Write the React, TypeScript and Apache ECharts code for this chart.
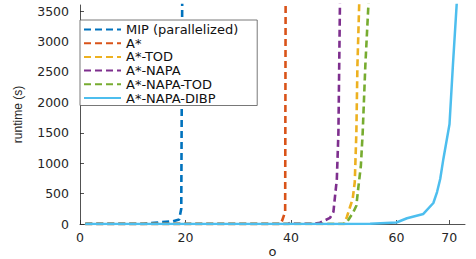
import React, { useEffect, useRef } from "react";
import * as echarts from "echarts";

const seriesNames = [
  "MIP (parallelized)",
  "A*",
  "A*-TOD",
  "A*-NAPA",
  "A*-NAPA-TOD",
  "A*-NAPA-DIBP",
];

const mipData: [number, number][] = [
  [1, 0], [12, 0], [13.5, 15], [15.5, 30], [17.6, 45], [18.8, 75], [19.2, 250], [19.5, 6000],
];
const aStarData: [number, number][] = [
  [1, 0], [38, 0], [38.3, 50], [38.9, 200], [39.1, 8000],
];
const todData: [number, number][] = [
  [1, 0], [50, 0], [50.6, 115], [51.2, 280], [51.7, 410], [52.1, 690], [52.4, 1500], [52.6, 2600], [53.0, 3800],
];
const napaData: [number, number][] = [
  [1, 0], [39.5, 0], [40, 30], [40.6, 5], [44.5, 5], [45.5, 20], [47.4, 100], [48.05, 200], [48.7, 740], [49.0, 1510], [49.3, 3700],
];
const napaTodData: [number, number][] = [
  [1, 0], [50.3, 0], [50.9, 70], [51.85, 200], [52.4, 300], [52.8, 620], [53.25, 950], [53.6, 1500], [54.1, 2600], [54.8, 3800],
];
const dibpData: [number, number][] = [
  [1, 0], [50, 0], [55, 5], [60, 25], [62, 95], [65.1, 165], [67, 345], [67.7, 525], [68.3, 740], [68.9, 1070], [70.06, 1640], [70.7, 2600], [71.45, 3650],
];

const xTicks = [0, 20, 40, 60, 70];
const yTicks = [0, 500, 1000, 1500, 2000, 2500, 3000, 3500];

const colors = ["#0072BD", "#D95319", "#EDB120", "#7E2F8E", "#77AC30", "#4DBEEE"];
const allData = [mipData, aStarData, todData, napaData, napaTodData, dibpData];

export default function App() {
  const ref = useRef<HTMLDivElement>(null);
  useEffect(() => {
    if (!ref.current) return;
    const chart = echarts.init(ref.current, null, { renderer: "svg" });
    const axisColor = "#262626";
    const font = "DejaVu Sans";
    chart.setOption({
      animation: false,
      grid: { left: 80, right: 11, top: 5, bottom: 35, containLabel: false, outerBoundsMode: "none" },
      legend: {
        left: 80,
        top: 20,
        orient: "vertical",
        itemWidth: 37,
        itemHeight: 12,
        itemGap: 0.7,
        padding: [3, 19, 1, 3],
        backgroundColor: "#fff",
        borderColor: "#555",
        borderWidth: 0.8,
        borderRadius: 0,
        textStyle: { fontFamily: font, fontSize: 13, lineHeight: 12, color: "#111" },
        itemStyle: { opacity: 0 },
        lineStyle: { width: 2 },
        data: seriesNames,
      },
      xAxis: {
        type: "value",
        min: 0,
        max: 73,
        interval: 10,
        name: "o",
        nameLocation: "middle",
        nameGap: 21,
        nameMoveOverlap: false,
        nameTextStyle: { fontFamily: font, fontSize: 13, color: axisColor },
        splitLine: { show: false },
        axisLine: { show: true, onZero: false, lineStyle: { color: axisColor, width: 0.8 } },
        axisTick: { show: true, inside: true, length: 4, customValues: xTicks, lineStyle: { color: axisColor, width: 0.8 } },
        axisLabel: { customValues: xTicks, margin: 7, fontFamily: font, fontSize: 12.5, color: axisColor, formatter: (v: number) => String(v) },
      },
      yAxis: {
        type: "value",
        min: 0,
        max: 3600,
        interval: 500,
        name: "runtime (s)",
        nameLocation: "middle",
        nameGap: 56,
        nameMoveOverlap: false,
        nameTextStyle: { fontFamily: "Liberation Sans", fontSize: 12, color: axisColor },
        splitLine: { show: false },
        axisLine: { show: true, lineStyle: { color: axisColor, width: 0.8 } },
        axisTick: { show: true, inside: true, length: 4, customValues: yTicks, lineStyle: { color: axisColor, width: 0.8 } },
        axisLabel: { customValues: yTicks, margin: 11, fontFamily: font, fontSize: 12.5, color: axisColor, formatter: (v: number) => String(v) },
      },
      series: seriesNames.map((name, i) => ({
        name,
        type: "line",
        data: allData[i],
        symbol: "none",
        showSymbol: false,
        clip: true,
        color: colors[i],
        lineStyle: {
          color: colors[i],
          width: i === 5 ? 2.5 : 2.6,
          type: i === 5 ? "solid" : [7, 4],
        },
        z: 2 + i,
      })),
    });
    return () => chart.dispose();
  }, []);
  return (
    <div
      ref={ref}
      style={{ position: "fixed", left: 0, top: 0, width: 476, height: 259, background: "#fff" }}
    />
  );
}
